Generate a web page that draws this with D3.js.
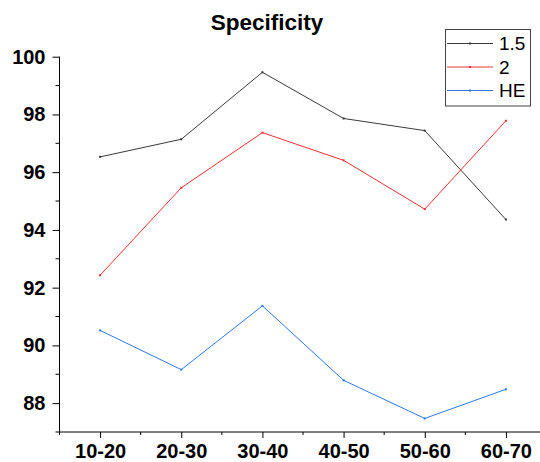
<!DOCTYPE html>
<html><head><meta charset="utf-8">
<script src="https://cdn.jsdelivr.net/npm/d3@7"></script>
<style>body{margin:0;background:#fff}svg{display:block}text{font-family:Arial,"Liberation Sans",sans-serif}</style>
</head><body><svg id="c" width="540" height="462"></svg>
<script>
const categories = ["10-20","20-30","30-40","40-50","50-60","60-70"];
const series15 = [96.53, 97.14, 99.46, 97.86, 97.44, 94.36];
const series2 = [92.43, 95.46, 97.37, 96.41, 94.72, 97.78];
const seriesHE = [90.52, 89.16, 91.37, 88.79, 87.47, 88.48];
const seriesNames = ["1.5", "2", "HE"];
const yTicks = [88, 90, 92, 94, 96, 98, 100];
const yMinor = [87, 89, 91, 93, 95, 97, 99];

const colors = ["#3a3a3a", "#f03030", "#2f78e8"];
const allSeries = [series15, series2, seriesHE];

const svg = d3.select("#c");
const x = d3.scaleLinear().domain([-0.5, 5.5]).range([59.5, 546.5]);
const y = d3.scaleLinear().domain([87, 100]).range([432, 56.7]);

// title
svg.append("text").attr("x", 267).attr("y", 30).attr("text-anchor", "middle")
  .attr("font-size", 22.5).attr("font-weight", "bold").text("Specificity");

// y axis
const yAxis = d3.axisLeft(y).tickValues(yTicks).tickSize(7).tickPadding(7).tickFormat(d3.format("d"));
const gy = svg.append("g").attr("transform", "translate(59.5,0)").call(yAxis);
gy.select(".domain").attr("d", `M0,${y(100)}V${y(87)}`).attr("stroke", "#000");
gy.selectAll(".tick text").attr("font-size", 20).attr("font-weight", "bold").attr("fill", "#000");
gy.selectAll(".tick line").attr("stroke", "#000");
gy.selectAll(".minor").data(yMinor).enter().append("line").attr("class", "minor")
  .attr("x1", -4).attr("x2", 0).attr("y1", d => y(d)).attr("y2", d => y(d)).attr("stroke", "#000");

// x axis
const xAxis = d3.axisBottom(x).tickValues(d3.range(categories.length)).tickSize(6).tickPadding(6)
  .tickFormat(i => categories[i]);
const gx = svg.append("g").attr("transform", `translate(0,${y(87)})`).call(xAxis);
gx.select(".domain").attr("d", `M${x(-0.5)},0H${x(5.5)}`).attr("stroke", "#000");
gx.selectAll(".tick text").attr("font-size", 20).attr("font-weight", "bold").attr("fill", "#000");
gx.selectAll(".tick line").attr("stroke", "#000");
gx.selectAll(".minor").data(d3.range(-0.5, 5.6, 1)).enter().append("line").attr("class", "minor")
  .attr("x1", d => x(d)).attr("x2", d => x(d)).attr("y1", 0).attr("y2", 3).attr("stroke", "#000");

// lines
const line = d3.line().x((d, i) => x(i)).y(d => y(d));
allSeries.forEach((s, k) => {
  svg.append("path").datum(s).attr("d", line).attr("fill", "none")
    .attr("stroke", colors[k]).attr("stroke-width", 1);
  svg.append("g").selectAll("rect").data(s).enter().append("rect")
    .attr("x", (d, i) => x(i) - 1).attr("y", d => y(d) - 1).attr("width", 2).attr("height", 2)
    .attr("fill", colors[k]);
});

// legend
const lg = svg.append("g");
lg.append("rect").attr("x", 445.5).attr("y", 29.5).attr("width", 85).attr("height", 76.5)
  .attr("fill", "#fff").attr("stroke", "#444").attr("stroke-width", 1);
const ly = [43.5, 67, 90.5];
seriesNames.forEach((n, k) => {
  lg.append("line").attr("x1", 447).attr("x2", 493).attr("y1", ly[k]).attr("y2", ly[k])
    .attr("stroke", colors[k]).attr("stroke-width", 1);
  lg.append("rect").attr("x", 469).attr("y", ly[k] - 1).attr("width", 2).attr("height", 2).attr("fill", colors[k]);
  lg.append("text").attr("x", 499).attr("y", ly[k] + 6.5).attr("font-size", 19).attr("fill", "#000").text(n);
});
</script></body></html>
